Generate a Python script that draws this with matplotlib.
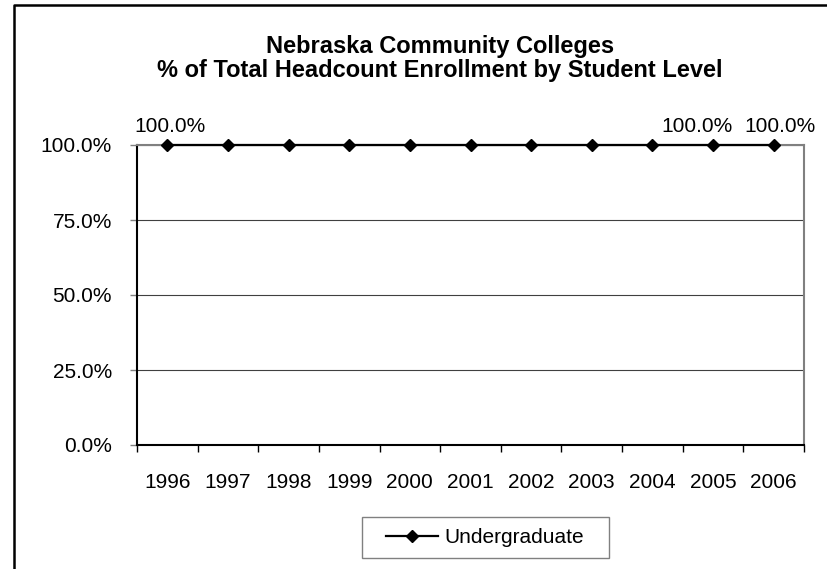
import matplotlib
matplotlib.use("Agg")
import matplotlib.pyplot as plt
from matplotlib.lines import Line2D
from matplotlib.patches import Rectangle
from matplotlib.ticker import FixedLocator, PercentFormatter

# data
years = ['1996', '1997', '1998', '1999', '2000', '2001', '2002', '2003', '2004', '2005', '2006']
undergrad = [1.0, 1.0, 1.0, 1.0, 1.0, 1.0, 1.0, 1.0, 1.0, 1.0, 1.0]
labeled = [0, 9, 10]          # points that carry a data label
label_dx = [3, -16, 6]        # pixel nudges used by the label placement

plt.rcParams['font.family'] = ['Liberation Sans', 'DejaVu Sans']

W, H = 827, 569
fig = plt.figure(figsize=(W / 100, H / 100), dpi=100)
ax = fig.add_axes([137 / W, 1 - 445 / H, (804 - 137) / W, (445 - 145) / H])

x = list(range(len(years)))
ax.plot(x, undergrad, color='black', lw=1.6, marker='D', ms=6,
        zorder=5, clip_on=False, label='Undergraduate')

for i, dx in zip(labeled, label_dx):
    ax.annotate('{:.1%}'.format(undergrad[i]), (x[i], undergrad[i]),
                xytext=(dx * 0.72, 13), textcoords='offset points',
                ha='center', va='center', fontsize=15)

ax.set_xlim(-0.5, len(years) - 0.5)
ax.set_ylim(0, 1)

ax.set_xticks(x)
ax.set_xticklabels(years, fontsize=15)
ax.xaxis.set_minor_locator(FixedLocator([i - 0.5 for i in range(len(years) + 1)]))
ax.tick_params(axis='x', which='major', length=0, pad=20)
ax.tick_params(axis='x', which='minor', length=5, width=1, color='black')

ax.set_yticks([0, 0.25, 0.5, 0.75, 1.0])
ax.yaxis.set_major_formatter(PercentFormatter(1.0, decimals=1))
ax.tick_params(axis='y', length=5, width=1, color='#808080', pad=13, labelsize=15)

ax.grid(axis='y', color='#404040', lw=0.8)
ax.set_axisbelow(True)

for s in ['left', 'bottom']:
    ax.spines[s].set_color('black')
    ax.spines[s].set_linewidth(1.5)
for s in ['top', 'right']:
    ax.spines[s].set_color('#808080')
    ax.spines[s].set_linewidth(1.5)

# title (two lines placed separately for tight spacing)
fig.text(440 / W, 1 - 47 / H, 'Nebraska Community Colleges',
         ha='center', va='center', fontsize=17, fontweight='bold')
fig.text(440 / W, 1 - 70 / H, '% of Total Headcount Enrollment by Student Level',
         ha='center', va='center', fontsize=17, fontweight='bold')

# legend
fig.legend(loc='center', bbox_to_anchor=(485 / W, 1 - 537.5 / H), frameon=False,
           fontsize=15, handlelength=2.5, handletextpad=0.3)
fig.patches.append(Rectangle((362 / W, 1 - 558 / H), (609 - 362) / W, (558 - 517) / H,
                             transform=fig.transFigure, fill=False,
                             edgecolor='#808080', lw=1))

# chart area border (left and top edges visible)
bx, by = 14 / W, 1 - 5 / H
fig.lines.append(Line2D([bx, bx, 1], [0, by, by], transform=fig.transFigure,
                        color='black', lw=1.8))

fig.savefig('out.png', dpi=100)
